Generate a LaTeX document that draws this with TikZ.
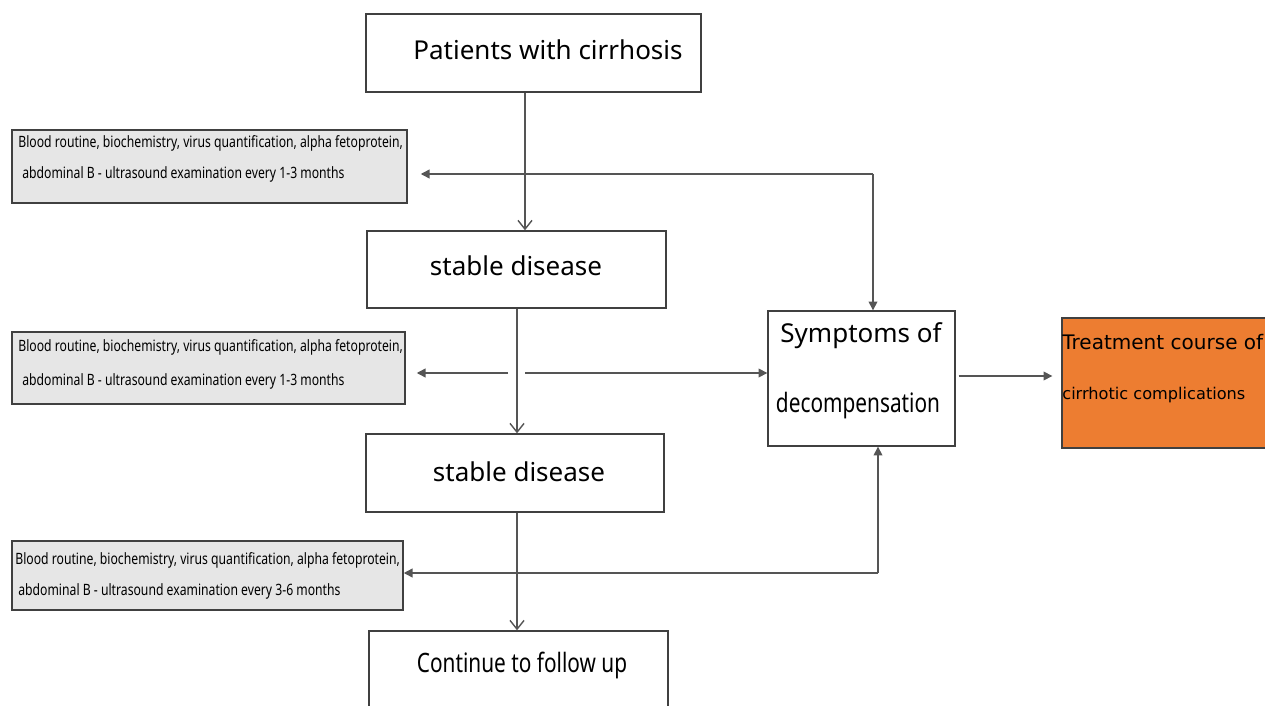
\documentclass[tikz,border=0pt]{standalone}
\usepackage{fontspec}
\setmainfont{Noto Sans}
\newfontfamily\narrowfont[FakeStretch=0.78]{Noto Sans}
\newfontfamily\dejafont{DejaVu Sans}
\usetikzlibrary{arrows.meta}
\definecolor{boxline}{HTML}{404040}
\definecolor{conn}{HTML}{555555}
\definecolor{grayfill}{HTML}{E6E6E6}
\definecolor{orangefill}{HTML}{ED7D31}
\tikzset{
  mainbox/.style={draw=boxline, line width=0.8pt, fill=white, inner sep=0pt},
  bigtext/.style={inner sep=0pt, font=\fontsize{14.8}{16}\selectfont},
  bignarrow/.style={inner sep=0pt, font=\narrowfont\fontsize{15.2}{17}\selectfont},
  graybox/.style={draw=boxline, line width=0.9pt, fill=grayfill, inner sep=0pt},
  graytext/.style={anchor=west, inner sep=0pt, font=\narrowfont\fontsize{8.9}{10}\selectfont},
  conn/.style={draw=conn, line width=0.8pt},
  openarr/.style={conn, -{Straight Barb[length=5pt,width=8pt]}},
  triarr/.style={conn, -{Triangle[length=5pt,width=5pt]}},
}
\begin{document}
\begin{tikzpicture}[x=0.02cm,y=-0.02cm]
\useasboundingbox (0,0) rectangle (1265,706);
\clip (0,0) rectangle (1265,706);
\fill[white] (0,0) rectangle (1265,706);

% main boxes
\node[mainbox, minimum width=6.7cm, minimum height=1.56cm] (pat) at (533.5,53) {};
\node[bigtext] (pattext) at (548,50) {Patients with cirrhosis};
\node[mainbox, minimum width=5.98cm, minimum height=1.54cm] (st1) at (516.5,269.5) {};
\node[bigtext] (st1text) at (516,266) {stable disease};
\node[mainbox, minimum width=5.96cm, minimum height=1.56cm] (st2) at (515,473) {};
\node[bigtext] (st2text) at (519,472) {stable disease};
\node[mainbox, minimum width=5.98cm, minimum height=2.4cm] (cont) at (518.5,691) {};
\node[bignarrow] (conttext) at (522,665) {Continue to follow up};
\node[mainbox, minimum width=3.74cm, minimum height=2.7cm] (sym) at (861.5,378.5) {};
\node[bigtext] (symtext1) at (861,336) {Symptoms of};
\node[bignarrow] (symtext2) at (858,406) {decompensation};
\node[draw=boxline, line width=0.8pt, fill=orangefill, minimum width=4.26cm, minimum height=2.6cm, inner sep=0pt] (treat) at (1168.5,383) {};
\node[anchor=west, inner sep=0pt, font=\dejafont\fontsize{11.4}{13}\selectfont] (treattext1) at (1062,342) {Treatment course of};
\node[anchor=west, inner sep=0pt, font=\dejafont\fontsize{9.2}{11}\selectfont] (treattext2) at (1062,395) {cirrhotic complications};

% gray boxes
\node[graybox, minimum width=7.9cm, minimum height=1.46cm] (g1) at (209.5,166.5) {};
\node[graytext] (g1a) at (18,143) {Blood routine, biochemistry, virus quantification, alpha fetoprotein,};
\node[graytext] (g1b) at (22,174) {abdominal B - ultrasound examination every 1-3 months};
\node[graybox, minimum width=7.86cm, minimum height=1.44cm] (g2) at (208.5,368) {};
\node[graytext] (g2a) at (18,347) {Blood routine, biochemistry, virus quantification, alpha fetoprotein,};
\node[graytext] (g2b) at (22,381) {abdominal B - ultrasound examination every 1-3 months};
\node[graybox, minimum width=7.82cm, minimum height=1.38cm] (g3) at (207.5,575.5) {};
\node[graytext] (g3a) at (15,560) {Blood routine, biochemistry, virus quantification, alpha fetoprotein,};
\node[graytext] (g3b) at (18,591) {abdominal B - ultrasound examination every 3-6 months};

% junction coordinates
\coordinate (x1) at (525,174);
\coordinate (c1) at (873,174);
\coordinate (x2) at (517,373);
\coordinate (x2l) at (508,373);
\coordinate (x2r) at (525,373);
\coordinate (c3) at (878,573);

% connectors
\draw[openarr] (pat.south -| x1) -- (st1.north -| x1);
\draw[triarr, shorten >=0.26cm] (c1) -- (g1.east |- c1);
\draw[triarr] (c1) -- (sym.north -| c1);
\draw[openarr] (st1.south -| x2) -- (st2.north -| x2);
\draw[triarr, shorten >=0.22cm] (x2l) -- (g2.east |- x2l);
\draw[triarr] (x2r) -- (sym.west |- x2r);
\draw[triarr, shorten <=0.06cm, shorten >=0.18cm] (sym.east |- 0,376) -- (treat.west |- 0,376);
\draw[openarr] (st2.south -| x2) -- (cont.north -| x2);
\draw[triarr] (c3) -- (g3.east |- c3);
\draw[triarr] (c3) -- (sym.south -| c3);
\end{tikzpicture}
\end{document}
